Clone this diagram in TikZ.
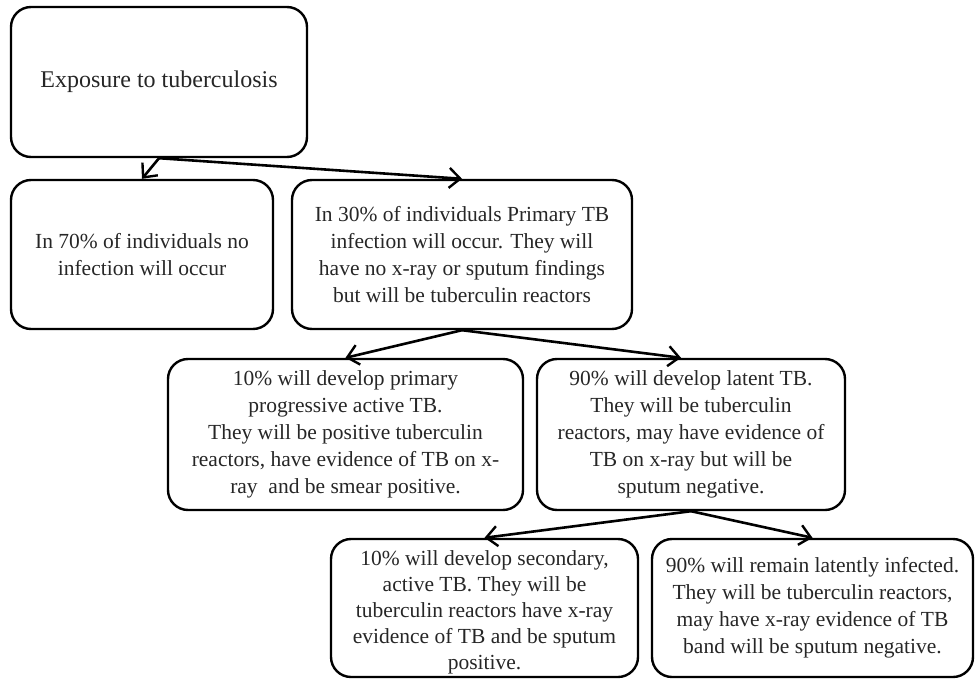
\documentclass[tikz,border=0pt]{standalone}
\usepackage{fontspec}
\setmainfont{Liberation Serif}
\usetikzlibrary{arrows.meta}
\tikzset{
  box/.style={draw=black, line width=2.4pt, rounded corners=20pt, inner sep=0pt,
    align=center, text=black!85, font=\fontsize{21.5}{27}\selectfont},
  txt/.style={inner sep=0pt, align=center, text=black!85, font=\fontsize{21.5}{26}\selectfont},
  arr/.style={draw=black, line width=2.6pt, -{Straight Barb[length=11pt,width=20pt,line width=2.4pt]}},
}
\begin{document}
\begin{tikzpicture}[x=1pt,y=-1pt]
\useasboundingbox (0,0) rectangle (976,679);
\node[box, minimum width=296pt, minimum height=150pt] (b1) at (159,82)
  {\fontsize{24}{28}\selectfont Exposure to tuberculosis};
\node[box, minimum width=262pt, minimum height=149pt] (b2) at (142,254.5)
  {In 70\% of individuals no\\infection will occur};
\node[box, minimum width=340pt, minimum height=149pt] (b3) at (462,254.5)
  {In 30\% of individuals Primary TB\\infection will occur. They will\\have no x-ray or sputum findings\\but will be tuberculin reactors};
\node[box, minimum width=355pt, minimum height=151pt] (b4) at (345.5,434.5)
  {10\% will develop primary\\progressive active TB.\\They will be positive tuberculin\\reactors, have evidence of TB on x-\\ray\ \ and be smear positive.};
\node[box, minimum width=308pt, minimum height=151pt] (b5) at (691,434.5)
  {90\% will develop latent TB.\\They will be tuberculin\\reactors, may have evidence of\\TB on x-ray but will be\\sputum negative.};
\node[box, minimum width=307pt, minimum height=138pt] (b6) at (484.5,608) {};
\node[txt] (t6) at ([yshift=-4pt]b6.center)
  {10\% will develop secondary,\\active TB. They will be\\tuberculin reactors have x-ray\\evidence of TB and be sputum\\positive.};
\node[box, minimum width=321pt, minimum height=138pt] (b7) at (812.5,608)
  {90\% will remain latently infected.\\They will be tuberculin reactors,\\may have x-ray evidence of TB\\band will be sputum negative.};
\draw[arr] (b1.south) -- (b2.north);
\draw[arr] (b1.south) -- (b3.north);
\draw[arr] (b3.south) -- (b4.north);
\draw[arr] (b3.south) -- ([xshift=-10pt]b5.north);
\draw[arr] (b5.south) -- (b6.north);
\draw[arr] (b5.south) -- (b7.north);
\end{tikzpicture}
\end{document}
